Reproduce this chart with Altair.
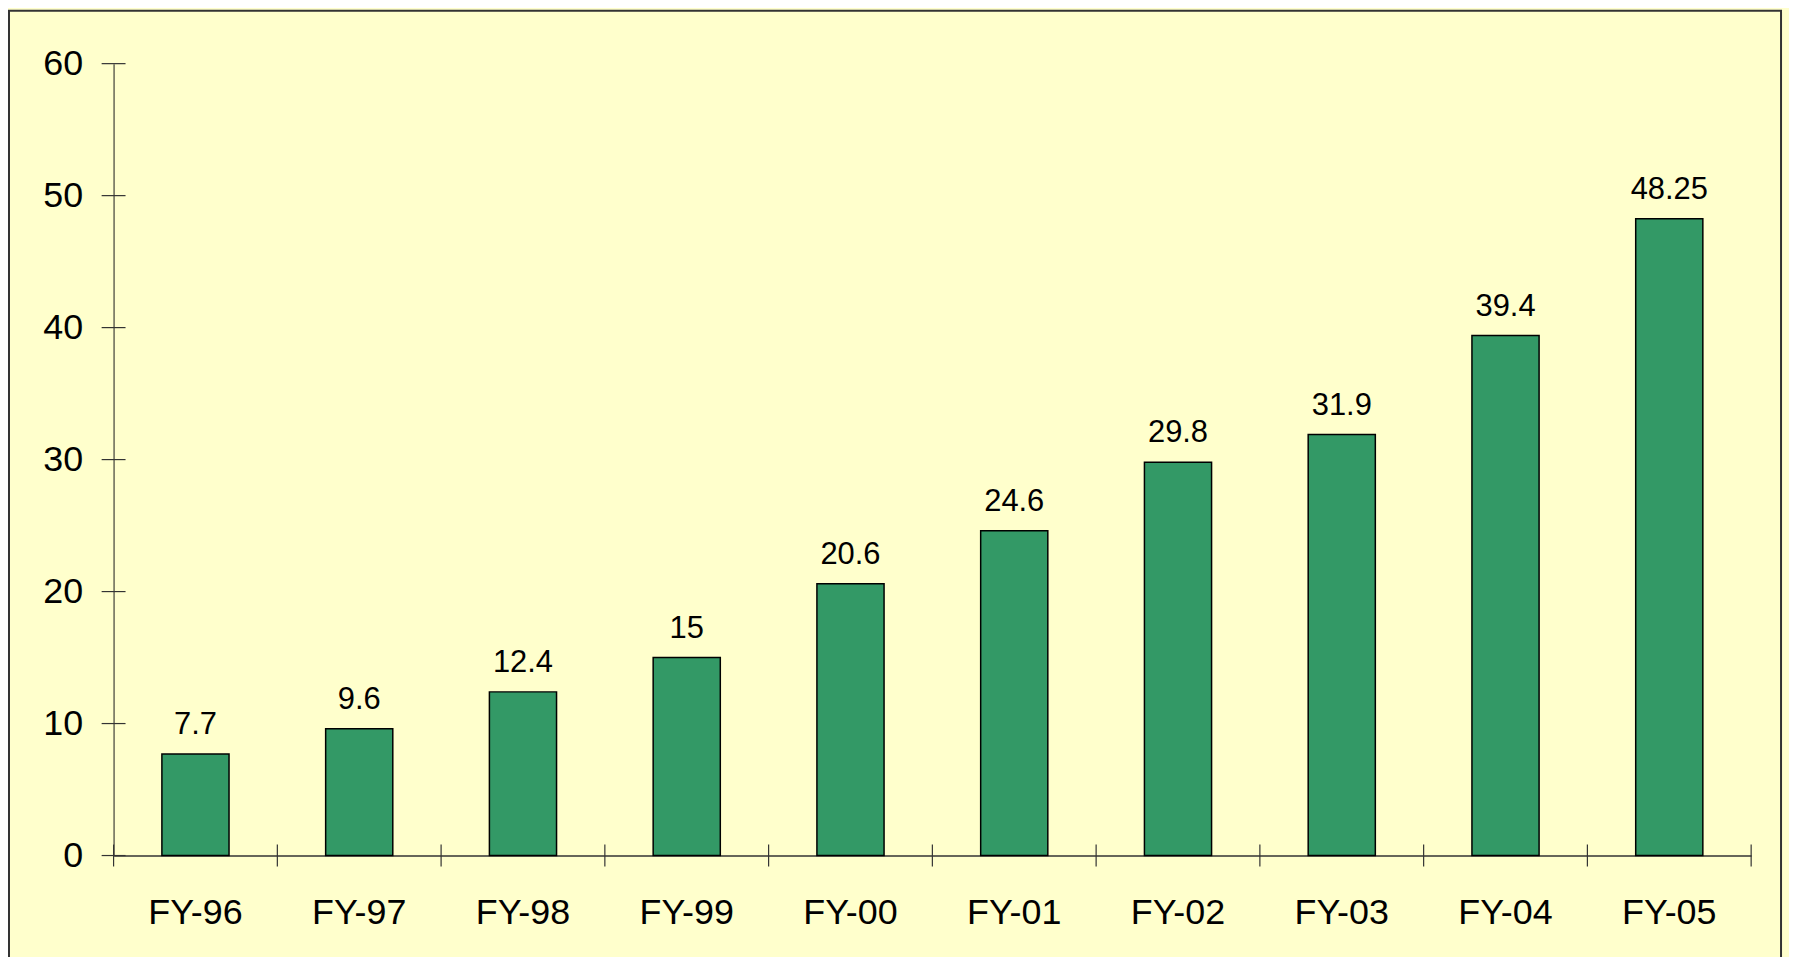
import altair as alt
import pandas as pd

categories = ["FY-96", "FY-97", "FY-98", "FY-99", "FY-00", "FY-01", "FY-02", "FY-03", "FY-04", "FY-05"]
values = [7.7, 9.6, 12.4, 15, 20.6, 24.6, 29.8, 31.9, 39.4, 48.25]
y_ticks = [0, 10, 20, 30, 40, 50, 60]

BG = "#FFFFCC"
BAR = "#339966"
FONT = "Liberation Sans"

df = pd.DataFrame({"cat": categories, "value": values})
df_y = pd.DataFrame({"v": y_ticks})
df_last = pd.DataFrame({"cat": [categories[-1]]})

xscale = alt.Scale(domain=categories, paddingInner=0.59, paddingOuter=0.295)
xscale_ticks = alt.Scale(domain=categories, paddingInner=0, paddingOuter=0)
yscale = alt.Scale(domain=[0, 60], nice=False)

W, H = 1644, 795

xaxis = alt.Axis(title=None, ticks=False, tickSize=0, labelFont=FONT, labelFontSize=36,
                 labelColor="#000000", labelPadding=40, domainColor="#333333",
                 domainWidth=1.5, grid=False, labelAngle=0)
yaxis = alt.Axis(title=None, ticks=False, tickSize=0, values=y_ticks, labelFont=FONT,
                 labelFontSize=36, labelColor="#000000", labelPadding=31,
                 domainColor="#666655", domainWidth=1.5, grid=False)

border = alt.Chart(pd.DataFrame({"k": [0]})).mark_rect(
    fill="transparent", stroke="#333333", strokeWidth=2
).encode(
    x=alt.value(-105), x2=alt.value(1674), y=alt.value(-53), y2=alt.value(920)
)

bars = alt.Chart(df).mark_bar(color=BAR, stroke="#000000", strokeWidth=1.5).encode(
    x=alt.X("cat:N", scale=xscale, axis=xaxis, sort=categories),
    y=alt.Y("value:Q", scale=yscale, axis=yaxis),
)

labels = alt.Chart(df).mark_text(
    font=FONT, fontSize=31, color="#000000", baseline="alphabetic", dy=-20
).encode(
    x=alt.X("cat:N", scale=xscale, sort=categories, axis=xaxis),
    y=alt.Y("value:Q", scale=yscale, axis=yaxis),
    text=alt.Text("value:Q"),
)

yticks = alt.Chart(df_y).mark_rule(color="#333333", strokeWidth=1.2).encode(
    y=alt.Y("v:Q", scale=yscale, axis=yaxis),
    x=alt.value(-12), x2=alt.value(12),
)

xticks = alt.Chart(df).mark_rule(color="#333333", strokeWidth=1.2).encode(
    x=alt.X("cat:N", scale=xscale_ticks, bandPosition=0, sort=categories, axis=None),
    y=alt.value(H - 11), y2=alt.value(H + 11),
)

xtick_last = alt.Chart(df_last).mark_rule(color="#333333", strokeWidth=1.2).encode(
    x=alt.X("cat:N", scale=xscale_ticks, bandPosition=1, sort=categories, axis=None),
    y=alt.value(H - 11), y2=alt.value(H + 11),
)

main = alt.layer(bars, labels)
ticks = alt.layer(xticks, xtick_last)

chart = alt.layer(border, main, yticks, ticks).resolve_scale(x="independent").properties(
    width=W, height=H,
    autosize=alt.AutoSizeParams(type="none"),
    padding={"left": 106, "top": 54, "right": 38, "bottom": 100},
    background=BG,
).configure_view(strokeWidth=0)

chart.save("out.html", embed_options={"renderer": "svg", "actions": False})
